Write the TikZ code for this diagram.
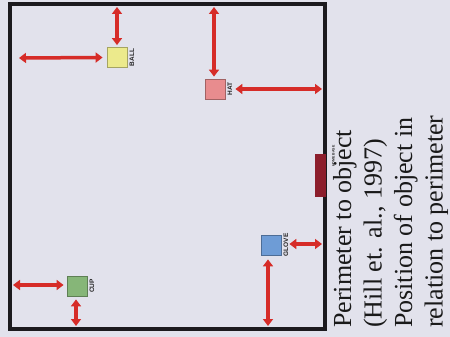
\documentclass[tikz,border=0pt]{standalone}
\usepackage{fontspec}
\setmainfont{Liberation Serif}
\setsansfont{Liberation Sans}
\usepackage{xcolor}
\usepackage{tikz}
\usetikzlibrary{arrows.meta,positioning}

\definecolor{paper}{RGB}{226,226,236}
\definecolor{wall}{RGB}{28,26,30}
\definecolor{arrowred}{RGB}{214,44,40}
\definecolor{ballfill}{RGB}{236,234,140}
\definecolor{hatfill}{RGB}{232,140,142}
\definecolor{glovefill}{RGB}{110,156,214}
\definecolor{cupfill}{RGB}{134,182,120}
\definecolor{basefill}{RGB}{140,30,44}

\begin{document}
\begin{tikzpicture}[
  x=1pt, y=-1pt,
  item/.style={rectangle, draw=#1!70!black, fill=#1, line width=0.8pt,
               minimum size=20pt, inner sep=0pt},
  tag/.style={font=\sffamily\bfseries\fontsize{6.5}{7}\selectfont,
              rotate=90, inner sep=0pt, anchor=north, text=black!85},
  both/.style={{Triangle[length=7pt,width=10pt]}-{Triangle[length=7pt,width=10pt]},
               line width=3.5pt, arrowred},
  caption/.style={font=\fontsize{26}{30.5}\selectfont, align=left, rotate=90,
                  inner sep=0pt, anchor=north west, text=black!90}
]
\fill[paper] (0,0) rectangle (450,337);
\draw[wall, line width=4.5pt] (10,4) rectangle (325,329);

\node[item=ballfill] (ball) at (117,57.5) {};
\node[item=hatfill] (hat) at (215,89) {};
\node[item=glovefill] (glove) at (271,245) {};
\node[item=cupfill] (cup) at (77,286) {};
\node[rectangle, fill=basefill, minimum width=11pt, minimum height=43pt,
      inner sep=0pt] (home) at (320.5,175) {};

\node[tag] (balltag) at ([xshift=2pt]ball.east) {BALL};
\node[tag] (hattag) at ([xshift=2pt]hat.east) {HAT};
\node[tag] (glovetag) at ([xshift=2pt]glove.east) {GLOVE};
\node[tag] (cuptag) at ([xshift=2pt]cup.east) {CUP};
\node[tag, font=\sffamily\bfseries\fontsize{3.5}{4}\selectfont] (hometag) at (332,156) {HOME BASE};

\coordinate (ballN) at (117,7);
\coordinate (ballW) at (19,58);
\coordinate (hatN) at (214,7);
\coordinate (hatE) at (322,89);
\coordinate (gloveE) at (322,244);
\coordinate (gloveS) at (268,326);
\coordinate (cupW) at (13,285);
\coordinate (cupS) at (76,326);

\draw[both] (ballN) -- ([yshift=2pt]ball.north);
\draw[both] (ballW) -- ([xshift=-4pt]ball.west);
\draw[both] (hatN) -- ([yshift=2pt]hat.north -| hatN);
\draw[both] (hatE) -- ([xshift=10pt]hat.east);
\draw[both] (gloveE) -- ([xshift=8pt]glove.east |- gloveE);
\draw[both] (gloveS) -- ([yshift=-4pt]glove.south -| gloveS);
\draw[both] (cupW) -- ([xshift=-3pt]cup.west |- cupW);
\draw[both] (cupS) -- ([yshift=-3pt]cup.south -| cupS);

\node[caption] (note) at (333,328) {Perimeter to object\\(Hill et. al., 1997)\\Position of object in\\relation to perimeter};
\end{tikzpicture}
\end{document}
